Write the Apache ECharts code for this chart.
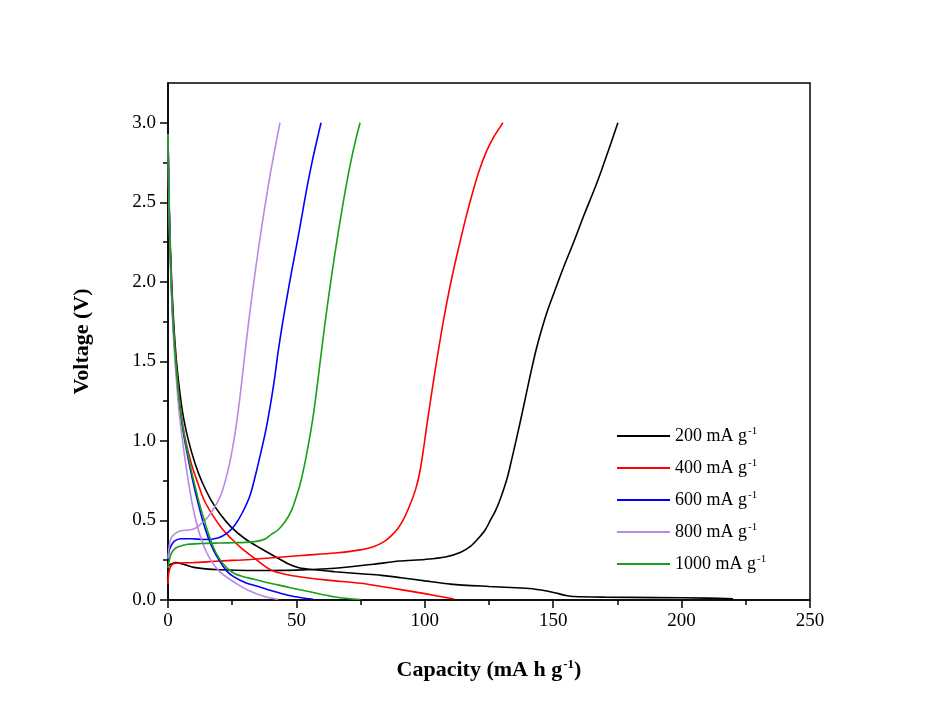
<!DOCTYPE html>
<html>
<head>
<meta charset="utf-8">
<script src="https://cdn.jsdelivr.net/npm/echarts@6/dist/echarts.min.js"></script>
<style>html,body{margin:0;padding:0;background:#fff}#c{width:940px;height:720px}</style>
</head>
<body>
<div id="c"></div>
<script>
// Legend names / rates
var rateNames = ['200 mA g', '400 mA g', '600 mA g', '800 mA g', '1000 mA g'];
var rateColors = ['#000000', '#ff0000', '#0000ff', '#b98ae0', '#17a017'];

// Y tick labels
var yTicks = [0, 0.5, 1.0, 1.5, 2.0, 2.5, 3.0];
var yMinorTicks = [0.25, 0.75, 1.25, 1.75, 2.25, 2.75];

// 200 mA g-1
var cap200Dis = [0, 0.3, 0.8, 1.5, 2.3, 3.3, 4.5, 6, 8, 10.5, 13.3, 16.7, 20.3, 24.5, 30, 36, 42, 46.5, 51, 57, 65, 75, 83, 90.7, 100, 110, 125, 137.5, 143, 148, 152, 155, 158, 170, 190, 210, 220];
var v200Dis   = [2.93, 2.62, 2.28, 1.97, 1.72, 1.5, 1.32, 1.15, 1.0, 0.86, 0.74, 0.63, 0.54, 0.46, 0.385, 0.325, 0.27, 0.23, 0.203, 0.19, 0.178, 0.165, 0.155, 0.14, 0.12, 0.1, 0.085, 0.075, 0.068, 0.055, 0.04, 0.028, 0.022, 0.018, 0.015, 0.012, 0.008];
var cap200Chg = [0, 0.3, 1, 3, 6, 10, 20, 35, 50, 65, 80, 90, 100, 108, 114, 118, 121, 123.5, 125.5, 127.5, 129.3, 131, 132.3, 133.5, 134.5, 135.5, 137.3, 139.3, 141.3, 143.3, 145.5, 147.8, 150.3, 154, 158, 162, 166, 169, 171.6, 173.5, 175.2];
var v200Chg   = [0.2, 0.215, 0.225, 0.235, 0.225, 0.205, 0.19, 0.185, 0.188, 0.2, 0.225, 0.245, 0.255, 0.27, 0.3, 0.34, 0.39, 0.44, 0.5, 0.56, 0.63, 0.71, 0.78, 0.86, 0.93, 1.0, 1.13, 1.28, 1.43, 1.57, 1.7, 1.82, 1.93, 2.09, 2.25, 2.42, 2.58, 2.71, 2.83, 2.92, 3.0];

// 400 mA g-1
var cap400Dis = [0, 0.3, 0.8, 1.5, 2.3, 3.2, 4.3, 5.7, 7.3, 9.2, 11.5, 14, 17.5, 21, 25, 29, 33.5, 37.5, 41.3, 46, 51.8, 62, 75, 83, 90.7, 100, 111.4];
var v400Dis   = [2.93, 2.6, 2.25, 1.93, 1.68, 1.47, 1.28, 1.1, 0.97, 0.85, 0.74, 0.63, 0.53, 0.45, 0.38, 0.32, 0.265, 0.215, 0.18, 0.16, 0.145, 0.125, 0.105, 0.085, 0.065, 0.04, 0.006];
var cap400Chg = [0, 0.3, 1, 2.5, 10, 20, 32, 52, 65, 75, 80, 84, 87, 89.5, 91.5, 93.5, 95, 96.5, 98, 99.5, 100.8, 102.2, 103.8, 105.5, 107.3, 109.3, 111.4, 113.7, 116.1, 118.6, 121.2, 124, 126.8, 128.8, 130.4];
var v400Chg   = [0.1, 0.17, 0.21, 0.23, 0.235, 0.245, 0.255, 0.28, 0.295, 0.315, 0.335, 0.365, 0.405, 0.45, 0.5, 0.57, 0.63, 0.7, 0.8, 0.95, 1.1, 1.25, 1.42, 1.59, 1.76, 1.93, 2.09, 2.25, 2.41, 2.56, 2.7, 2.82, 2.91, 2.96, 3.0];

// 600 mA g-1
var cap600Dis = [0, 0.3, 0.8, 1.5, 2.3, 3.2, 4.2, 5.5, 7, 8.6, 10.2, 11.7, 13.5, 15.5, 17.8, 20.5, 23, 25.7, 30, 36, 41, 46.7, 52, 56.5];
var v600Dis   = [2.93, 2.58, 2.22, 1.9, 1.65, 1.44, 1.26, 1.1, 0.96, 0.83, 0.71, 0.61, 0.5, 0.4, 0.31, 0.235, 0.18, 0.145, 0.11, 0.08, 0.055, 0.03, 0.014, 0.004];
var cap600Chg = [0, 0.5, 1.2, 2.5, 5, 9, 14, 19.5, 23, 26, 29, 32, 34.3, 36.2, 38, 39.6, 41.2, 42.8, 44.5, 46.3, 48.2, 50.2, 52.2, 54.2, 56.2, 58, 59.6];
var v600Chg   = [0.25, 0.31, 0.34, 0.37, 0.385, 0.385, 0.38, 0.39, 0.42, 0.47, 0.55, 0.66, 0.8, 0.93, 1.06, 1.2, 1.36, 1.55, 1.73, 1.9, 2.07, 2.24, 2.42, 2.6, 2.76, 2.89, 3.0];

// 800 mA g-1
var cap800Dis = [0, 0.3, 0.8, 1.5, 2.3, 3.2, 4.1, 5.2, 6.5, 8, 9.5, 11, 12.8, 15, 17.5, 20, 23.2, 27, 31, 36, 40, 42.8];
var v800Dis   = [2.93, 2.55, 2.18, 1.86, 1.6, 1.4, 1.22, 1.06, 0.9, 0.74, 0.6, 0.49, 0.39, 0.3, 0.23, 0.18, 0.14, 0.1, 0.063, 0.03, 0.012, 0.004];
var cap800Chg = [0, 0.5, 1.2, 3, 5, 8, 10.5, 13, 15.5, 18, 20.6, 22.5, 24, 25.3, 26.5, 27.6, 28.7, 29.9, 31.2, 32.6, 34.1, 35.7, 37.4, 39.2, 41.2, 43.6];
var v800Chg   = [0.26, 0.34, 0.39, 0.42, 0.435, 0.44, 0.45, 0.48, 0.52, 0.58, 0.66, 0.76, 0.86, 0.97, 1.09, 1.22, 1.37, 1.54, 1.72, 1.9, 2.08, 2.26, 2.44, 2.62, 2.8, 3.0];

// 1000 mA g-1
var cap1000Dis = [0, 0.3, 0.8, 1.5, 2.3, 3.2, 4.2, 5.5, 7, 8.6, 10.3, 12, 13.8, 15.7, 17.7, 20, 23, 26, 29, 33.5, 38.9, 42.8, 48, 51.8, 55.7, 60, 64.6, 70, 75];
var v1000Dis   = [2.93, 2.58, 2.22, 1.9, 1.66, 1.46, 1.28, 1.12, 0.98, 0.85, 0.73, 0.62, 0.52, 0.42, 0.33, 0.26, 0.2, 0.165, 0.148, 0.13, 0.108, 0.095, 0.076, 0.063, 0.05, 0.035, 0.02, 0.009, 0.003];
var cap1000Chg = [0, 0.5, 1.2, 2.5, 4, 7.7, 13, 20, 25.7, 30, 35, 38, 40, 42.8, 45.5, 48, 50, 51.8, 53.3, 54.6, 55.8, 57, 58.2, 59.5, 60.9, 62.4, 64, 65.6, 67.3, 69.1, 71, 72.9, 74.8];
var v1000Chg   = [0.2, 0.25, 0.29, 0.32, 0.335, 0.35, 0.355, 0.358, 0.36, 0.362, 0.37, 0.385, 0.41, 0.44, 0.49, 0.56, 0.65, 0.75, 0.86, 0.97, 1.08, 1.21, 1.36, 1.53, 1.71, 1.89, 2.07, 2.24, 2.41, 2.58, 2.74, 2.88, 3.0];

function pairs(xs, ys) { return xs.map(function (x, i) { return [x, ys[i]]; }); }

var curves = [
  [0, cap200Dis, v200Dis], [0, cap200Chg, v200Chg],
  [1, cap400Dis, v400Dis], [1, cap400Chg, v400Chg],
  [2, cap600Dis, v600Dis], [2, cap600Chg, v600Chg],
  [3, cap800Dis, v800Dis], [3, cap800Chg, v800Chg],
  [4, cap1000Dis, v1000Dis], [4, cap1000Chg, v1000Chg]
];

var FONT = '"Liberation Serif", "Times New Roman", serif';

var series = curves.map(function (c) {
  return {
    type: 'line',
    name: rateNames[c[0]],
    data: pairs(c[1], c[2]),
    showSymbol: false,
    smooth: 0.3,
    lineStyle: { width: 1.6, color: rateColors[c[0]] },
    itemStyle: { color: rateColors[c[0]] },
    animation: false,
    z: 2
  };
});

var chart = echarts.init(document.getElementById('c'), null, { renderer: 'canvas' });
chart.setOption({
  backgroundColor: '#ffffff',
  animation: false,
  grid: { left: 168, right: 130, top: 83, bottom: 120, show: true, borderColor: '#000', borderWidth: 1.5, backgroundColor: 'transparent' },
  legend: {
    orient: 'vertical', left: 617, top: 426, padding: 0,
    data: rateNames,
    icon: 'rect', itemWidth: 53, itemHeight: 2, itemGap: 13,
    formatter: function (n) { return '{a|' + n + '}{s|-1}'; },
    textStyle: {
      fontFamily: FONT, fontSize: 18, color: '#000',
      rich: {
        a: { fontFamily: FONT, fontSize: 18, color: '#000', lineHeight: 20 },
        s: { fontFamily: FONT, fontSize: 11, color: '#000', padding: [0, 0, 9, 1] }
      }
    }
  },
  xAxis: {
    type: 'value', min: 0, max: 250, interval: 50,
    name: '{b|Capacity (mA h g}{s|-1}{b|)}',
    nameLocation: 'middle', nameGap: 58,
    nameTextStyle: {
      rich: {
        b: { fontFamily: FONT, fontSize: 22, fontWeight: 'bold', color: '#000' },
        s: { fontFamily: FONT, fontSize: 13, fontWeight: 'bold', color: '#000', padding: [0, 0, 11, 1] }
      }
    },
    axisLine: { show: true, onZero: false, lineStyle: { color: '#000', width: 1.5 } },
    axisTick: { show: true, inside: false, length: 8, lineStyle: { color: '#000', width: 1.5 } },
    minorTick: { show: true, splitNumber: 2, length: 5, lineStyle: { color: '#000', width: 1.5 } },
    axisLabel: { fontFamily: FONT, fontSize: 19, color: '#000', margin: 12 },
    splitLine: { show: false }
  },
  yAxis: [{
    type: 'value', min: 0, max: 3.25,
    name: 'Voltage (V)', nameLocation: 'middle', nameGap: 75,
    nameTextStyle: { fontFamily: FONT, fontSize: 22, fontWeight: 'bold', color: '#000' },
    axisLine: { show: true, onZero: false, lineStyle: { color: '#000', width: 1.5 } },
    axisTick: { show: true, inside: false, length: 8, customValues: yTicks, lineStyle: { color: '#000', width: 1.5 } },
    axisLabel: { fontFamily: FONT, fontSize: 19, color: '#000', margin: 12, customValues: yTicks,
      formatter: function (v) { return v.toFixed(1); } },
    splitLine: { show: false }
  }, {
    type: 'value', min: 0, max: 3.25, position: 'left', offset: 0,
    axisLine: { show: false },
    axisTick: { show: true, inside: false, length: 5, customValues: yMinorTicks, lineStyle: { color: '#000', width: 1.5 } },
    axisLabel: { show: false },
    splitLine: { show: false }
  }],
  series: series
});
</script>
</body>
</html>
